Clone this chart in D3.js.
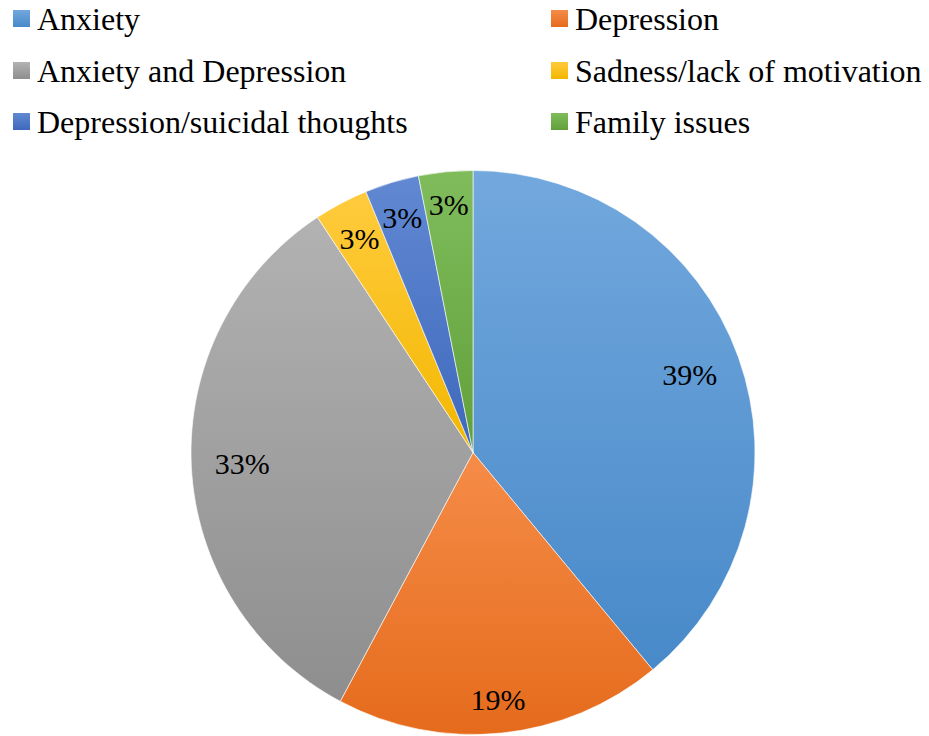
<!DOCTYPE html>
<html><head><meta charset="utf-8">
<script src="https://cdn.jsdelivr.net/npm/d3@7"></script>
<style>body{margin:0;background:#fff}svg{display:block}</style>
</head><body>
<svg id="c" width="929" height="736"></svg>
<script>
const categories = ["Anxiety","Depression","Anxiety and Depression","Sadness/lack of motivation","Depression/suicidal thoughts","Family issues"];
const values = [39.0,18.8,32.9,3.1,3.1,3.1];
const labels = ["39%","19%","33%","3%","3%","3%"];
const colorsTop = ["#72A8DD","#F58C48","#B2B2B2","#FFCB3D","#6189D2","#80BC5C"];
const colorsBottom = ["#4889C9","#E56B1C","#8E8E8E","#F3B700","#3E68BD","#60A03A"];

const svg = d3.select("#c");
const cx = 473, cy = 452.5, R = 282;
const FONT = '"Liberation Serif"';

const defs = svg.append("defs");
categories.forEach((c,i)=>{
  const g = defs.append("linearGradient").attr("id","g"+i).attr("x1",0).attr("y1",0).attr("x2",0).attr("y2",1);
  g.append("stop").attr("offset","0%").attr("stop-color",colorsTop[i]);
  g.append("stop").attr("offset","100%").attr("stop-color",colorsBottom[i]);
});

const pie = d3.pie().value(d=>d).sort(null);
const arcs = pie(values);
const arc = d3.arc().innerRadius(0).outerRadius(R);
const gp = svg.append("g").attr("transform",`translate(${cx},${cy})`);
gp.selectAll("path").data(arcs).join("path")
  .attr("d",arc).attr("fill",(d,i)=>`url(#g${i})`)
  .attr("stroke","#fff").attr("stroke-width",0.6);

// labels: inside end
const pad = 23;
gp.selectAll("text.lbl").data(arcs).join("text").attr("class","lbl")
  .style("font-family",FONT).style("font-size","30px").attr("fill","#000")
  .attr("text-anchor","middle").attr("dominant-baseline","central")
  .text((d,i)=>labels[i])
  .each(function(d){
    const bb = this.getBBox();
    const hw = bb.width/2, hh = bb.height/2*0.5;
    const a = (d.startAngle+d.endAngle)/2;
    const s = Math.sin(a), c = -Math.cos(a);
    const dist = R - pad - (hw*Math.abs(s) + hh*Math.abs(c));
    d3.select(this).attr("x", dist*s).attr("y", dist*c);
  });

// legend
const colX = [13, 551];
const rowY = [10, 62, 113];
const sq = 17;
const lg = svg.append("g");
categories.forEach((c,i)=>{
  const col = i%2, row = Math.floor(i/2);
  const x = colX[col], y = rowY[row];
  lg.append("rect").attr("x",x).attr("y",y).attr("width",sq).attr("height",sq).attr("fill",`url(#g${i})`);
  lg.append("text").attr("x",x+sq+7).attr("y",y+sq/2).attr("dominant-baseline","central")
    .style("font-family",FONT).style("font-size","32px").attr("fill","#000").text(c);
});
</script>
</body></html>
